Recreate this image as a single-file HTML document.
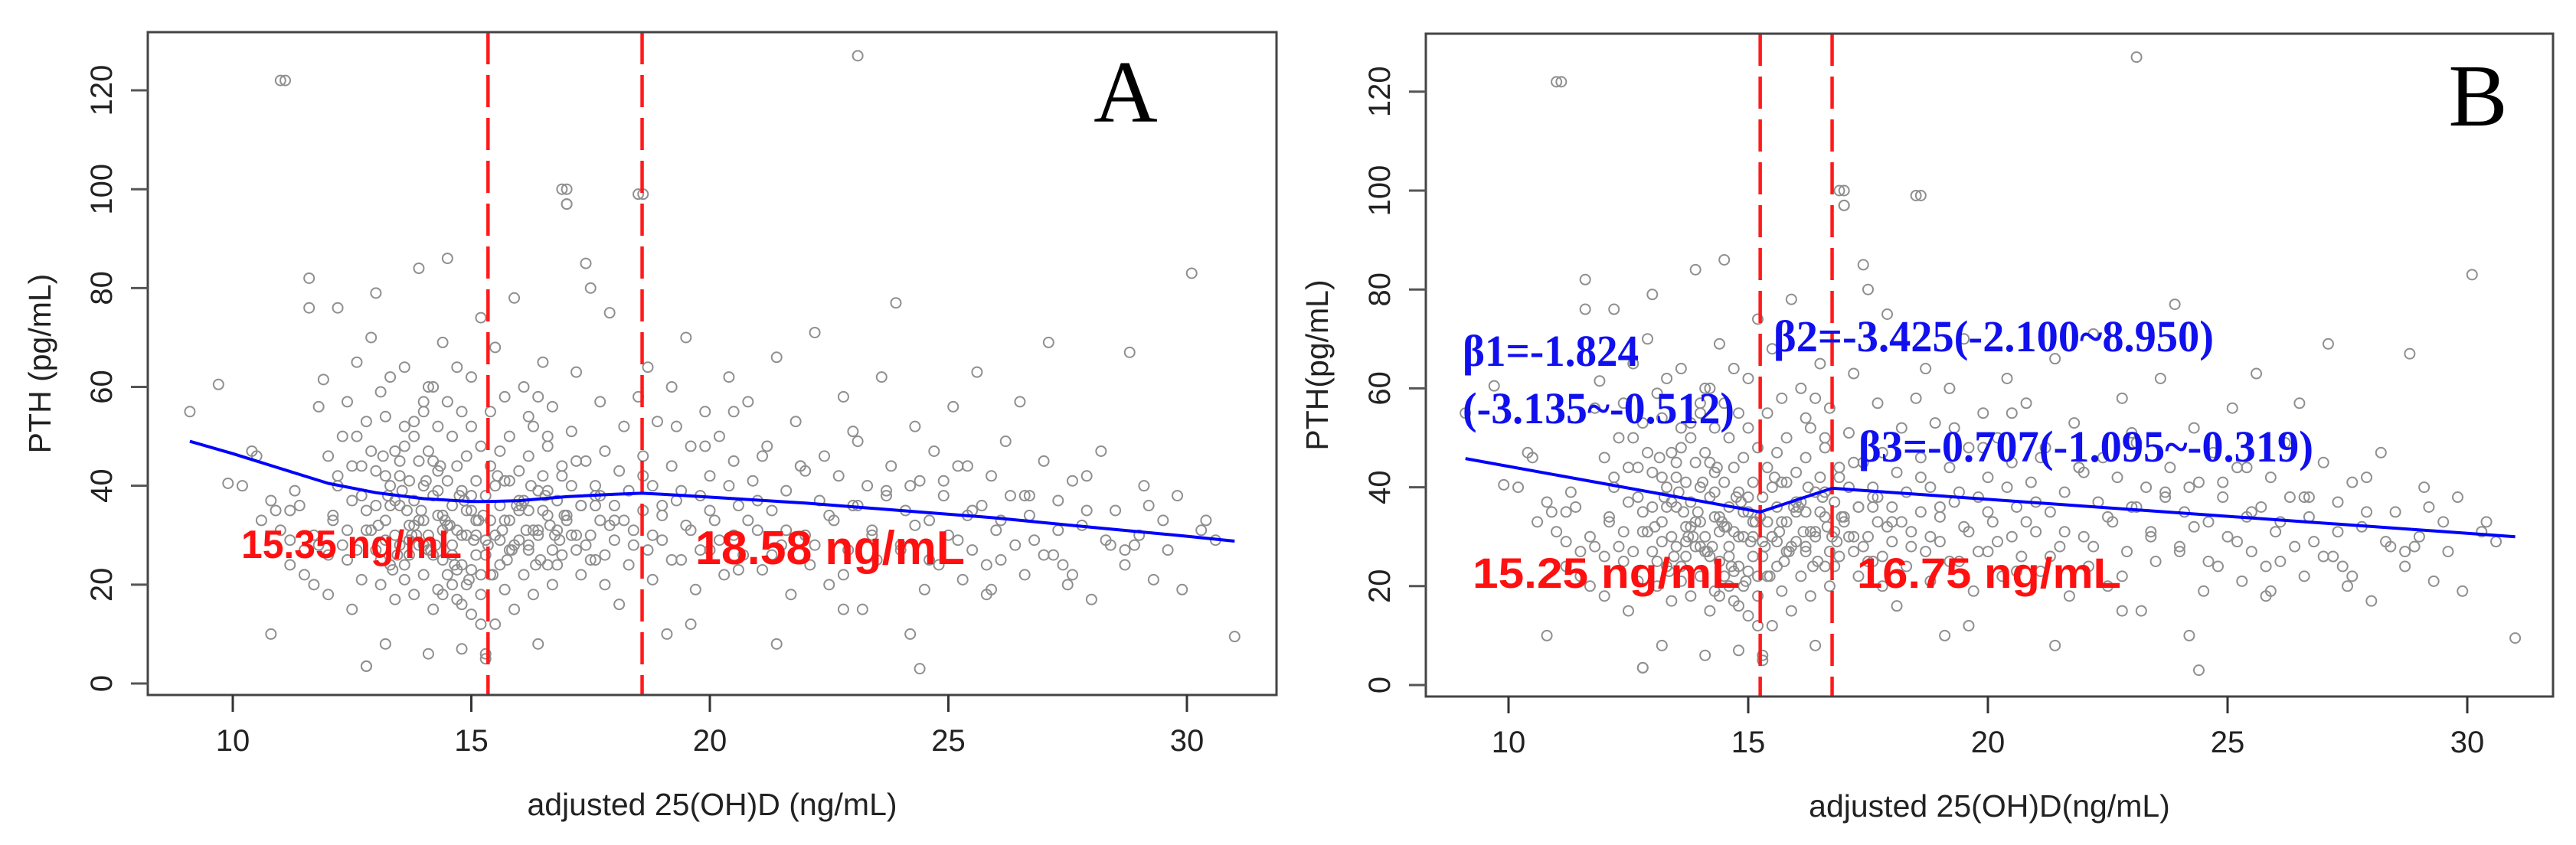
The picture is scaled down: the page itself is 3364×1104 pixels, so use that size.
<!DOCTYPE html>
<html><head><meta charset="utf-8"><style>
html,body{margin:0;padding:0;background:#fff;}
svg{display:block;}
</style></head><body>
<svg id="fig" width="3364" height="1104" viewBox="0 0 3364 1104" xmlns="http://www.w3.org/2000/svg">
<rect width="3364" height="1104" fill="#fff"/>
<g id="panelA"></g>
<g id="panelB"></g>
</svg>
<script>
// ---- data ----
const xTicks = [10, 15, 20, 25, 30];
const yTicks = [0, 20, 40, 60, 80, 100, 120];
const pointX = [9.1,9.7,9.9,10.2,10.4,10.5,10.6,10.8,10.8,10.9,11.0,11.1,11.2,11.2,11.3,11.4,11.5,11.6,11.6,11.7,11.8,11.8,11.9,12.0,12.0,12.1,12.2,12.2,12.3,12.4,12.4,12.5,12.5,12.6,12.6,12.7,12.7,12.8,12.8,12.8,12.9,12.9,13.0,13.0,13.0,13.1,13.1,13.2,13.2,13.2,13.3,13.3,13.3,13.4,13.4,13.4,13.5,13.5,13.5,13.6,13.6,13.6,13.7,13.7,13.7,13.8,13.8,13.8,13.9,13.9,13.9,14.0,14.0,14.0,14.0,14.1,14.1,14.1,14.2,14.2,14.2,14.3,14.3,14.3,14.3,14.4,14.4,14.4,14.5,14.5,14.5,14.5,14.6,14.6,14.6,14.7,14.7,14.7,14.7,14.8,14.8,14.8,14.8,14.9,14.9,14.9,15.0,15.0,15.0,15.0,15.1,15.1,15.1,15.2,15.2,15.2,15.3,15.3,15.3,15.4,15.4,15.4,15.5,15.5,15.5,15.6,15.6,15.6,15.7,15.7,15.7,15.8,15.8,15.8,15.9,15.9,16.0,16.0,16.0,16.1,16.1,16.2,16.2,16.2,16.3,16.3,16.4,16.4,16.4,16.5,16.5,16.6,16.6,16.6,16.7,16.7,16.8,16.8,16.9,16.9,17.0,17.0,17.0,17.1,17.1,17.2,17.2,17.3,17.3,17.4,17.4,17.5,17.5,17.6,17.6,17.7,17.7,17.8,17.8,17.9,18.0,18.0,18.1,18.1,18.2,18.3,18.3,18.4,18.5,18.5,18.6,18.6,18.7,18.7,18.8,18.8,18.9,19.0,19.0,19.1,19.2,19.2,19.3,19.4,19.5,19.5,19.6,19.7,19.8,19.9,20.0,20.0,20.1,20.2,20.3,20.4,20.5,20.5,20.6,20.7,20.8,20.9,21.0,21.1,21.2,21.3,21.4,21.5,21.6,21.7,21.8,21.9,22.0,22.1,22.2,22.3,22.4,22.5,22.6,22.7,22.8,22.9,23.0,23.1,23.2,23.3,23.4,23.5,23.6,23.7,23.8,23.9,24.0,24.1,24.2,24.3,24.4,24.5,24.6,24.7,24.8,24.9,25.0,25.1,25.2,25.3,25.4,25.5,25.6,25.7,25.8,25.9,26.0,26.1,26.2,26.3,26.5,26.6,26.7,26.8,27.0,27.1,27.2,27.3,27.5,27.6,27.8,28.0,28.2,28.4,28.5,28.7,28.8,29.0,29.1,29.3,29.5,29.6,29.8,29.9,30.1,30.3,30.6,31.0,16.9,17.0,18.6,23.1,11.0,12.8,24.4,13.2,14.1,15.3,19.6,21.4,22.8,25.9,27.4,28.9,
12.1,12.3,12.5,12.7,12.9,13.1,13.3,13.5,13.7,13.9,14.1,14.3,14.5,14.7,14.9,15.1,15.3,15.5,15.7,15.9,16.1,16.3,16.5,16.7,16.9,17.1,17.3,17.5,17.7,17.9,
12.2,12.4,12.6,12.8,13.0,13.2,13.4,13.6,13.8,14.0,14.2,14.4,14.6,14.8,15.0,15.2,15.4,15.6,15.8,16.0,16.2,16.4,16.6,16.8,17.0,17.2,17.4,17.6,17.8,18.0,
13.05,13.25,13.45,13.65,13.85,14.05,14.25,14.45,14.65,14.85,15.05,15.25,15.45,15.65,15.85,16.05,16.25,16.45,16.65,16.85,
13.15,13.35,13.55,13.75,13.95,14.15,14.35,14.55,14.75,14.95,15.15,15.35,15.55,15.75,15.95,16.15,16.35,16.55,16.75,16.95,
18.2,18.4,18.6,18.8,19.0,19.2,19.4,19.6,19.8,20.0,20.2,20.4,20.6,20.8,21.0,21.3,21.6,21.9,22.2,22.5,22.8,23.1,23.4,23.7,24.0,24.3,24.6,24.9,25.2,25.5,25.8,26.1,26.4,26.7,27.0,27.3,27.6,27.9,28.3,28.7,
11.2,11.5,11.7,12.0,14.4,14.6,14.8,15.0,15.2,13.6,13.8,14.0,14.2,16.2,16.4,16.6,17.2,17.6,19.3,19.9,20.5,21.1,22.0,23.0,24.2,25.4,26.6,27.9,29.2,30.4];
const pointY = [55,60.5,40.5,40,47,46,33,10,37,35,31,122,24,29,39,36,27,82,76,20,28,56,61.5,46,18,33,76,42,50,57,25,37,15,65,50,44,21,53,31,3.5,70,47,79,36,27,59,20,42,54,33,24,40,62,30,17,47,45,28,36,21,52,64,32,41,26,18,50,37,84,28,45,55,33,22,40,60,30,47,15,38,26,43,52,19,34,31,69,25,41,57,22,86,36,28,50,17,44,64,31,24,39,55,7,46,30,20,52,35,14,62,26,41,33,74,18,48,29,6,38,55,22,44,30,12,68,36,24,47,58,19,41,33,27,50,15,78,37,29,43,22,60,35,28,46,18,52,39,30,8,65,42,24,34,48,20,56,31,37,26,44,100,97,33,40,51,27,63,36,22,85,45,30,80,38,25,57,33,47,20,75,36,29,43,16,52,39,24,31,58,99,46,35,27,64,40,21,53,34,29,10,44,60,37,25,70,32,48,19,38,55,27,42,33,50,22,62,30,45,36,26,57,41,31,23,48,35,66,28,39,18,53,44,30,24,71,37,46,20,33,42,58,27,36,49,15,40,31,25,62,38,44,77,28,35,10,52,41,19,33,47,24,38,30,56,44,21,34,27,63,36,18,42,31,25,49,38,57,22,34,29,45,69,26,37,20,41,32,17,47,28,35,24,67,30,40,21,33,27,38,19,83,31,29,9.5,100,97,99,127,122,3.5,3,8,6,5,12,8,15,19,24,28,
34,28,44,38,31,25,36,42,29,33,27,39,32,23,35,30,26,40,33,28,37,31,35,27,42,30,36,25,38,32,
40,31,27,35,43,29,37,24,32,28,45,34,26,30,38,22,33,29,41,35,27,31,39,24,34,30,28,36,26,33,
32,38,26,35,30,41,28,33,24,37,29,34,22,31,27,36,40,25,32,29,
46,23,39,30,35,27,44,32,38,21,33,28,42,25,36,31,24,38,30,34,
33,28,42,30,36,25,39,31,27,35,29,40,23,33,37,26,31,44,28,34,22,36,30,39,27,32,25,41,29,35,24,33,28,38,26,31,22,35,29,27,
35,22,30,26,18,20,16,23,12,48,53,57,60,54,58,50,45,40,52,48,55,46,43,51,40,44,38,42,36,33];
const curveAX = [9.1,10,11,12,13,14,15,15.35,16,17,18,18.58,19,20,22,24,26,28,30,31];
const curveAY = [49,46.5,43.5,40.5,38.6,37.4,36.8,36.8,37.0,37.8,38.3,38.5,38.3,37.7,36.5,35.0,33.5,31.6,29.8,28.8];
const curveBX = [9.1,15.25,16.75,31];
const curveBY = [45.8,35.0,39.8,30.0];
const cutA = [15.35, 18.58];
const cutB = [15.25, 16.75];

const NS = 'http://www.w3.org/2000/svg';
function mk(tag, attrs, parent, text){
  const e = document.createElementNS(NS, tag);
  for (const k in attrs) e.setAttribute(k, attrs[k]);
  if (text !== undefined) e.textContent = text;
  parent.appendChild(e);
  return e;
}

function drawPanel(g, cfg){
  const sx = v => cfg.x10 + (v - 10) * cfg.kx;
  const sy = v => cfg.y0 - v * cfg.ky;
  const pts = mk('g', {}, g);
  
  
  for (let i = 0; i < pointX.length; i++){
    const c = mk('circle', {cx: sx(pointX[i]), cy: sy(pointY[i]), r: 6.5, fill: 'none', stroke: '#8f8f8f', 'stroke-width': 2}, pts);
    
    
  }
  cfg.cuts.forEach(v => {
    const l = mk('line', {x1: sx(v), x2: sx(v), y1: cfg.top, y2: cfg.bottom, stroke: '#ff1a1a', 'stroke-width': 4.5, 'stroke-dasharray': '42 14'}, g);
    
    
  });
  let d = '';
  cfg.cx.forEach((v, i) => { d += (i ? 'L' : 'M') + sx(v).toFixed(1) + ',' + sy(cfg.cy[i]).toFixed(1); });
  const p = mk('path', {d: d, fill: 'none', stroke: '#0000ff', 'stroke-width': 4, 'stroke-linejoin': 'round'}, g);
  
  
  const b = mk('rect', {x: cfg.left, y: cfg.top, width: cfg.right - cfg.left, height: cfg.bottom - cfg.top, fill: 'none', stroke: '#444', 'stroke-width': 3}, g);
  
  
  xTicks.forEach(v => {
    const t = mk('line', {x1: sx(v), x2: sx(v), y1: cfg.bottom, y2: cfg.bottom + 22, stroke: '#333', 'stroke-width': 3}, g);
    
    
    const lb = mk('text', {x: sx(v), y: cfg.bottom + 73, 'text-anchor': 'middle', 'font-family': 'Liberation Sans, sans-serif', 'font-size': 40, fill: '#222'}, g, String(v));
    
    
  });
  yTicks.forEach(v => {
    const t = mk('line', {x1: cfg.left - 22, x2: cfg.left, y1: sy(v), y2: sy(v), stroke: '#555', 'stroke-width': 3}, g);
    
    
    const lb = mk('text', {x: 0, y: 0, transform: 'translate(' + (cfg.left - 47) + ',' + sy(v) + ') rotate(-90)', 'text-anchor': 'middle', 'font-family': 'Liberation Sans, sans-serif', 'font-size': 40, fill: '#222'}, g, String(v));
    
    
  });
  const xt = mk('text', {x: (cfg.left + cfg.right) / 2, y: cfg.bottom + 157, 'text-anchor': 'middle', 'font-family': 'Liberation Sans, sans-serif', 'font-size': 41, fill: '#222'}, g, cfg.xTitle);
  
  
  const yt = mk('text', {x: 0, y: 0, transform: 'translate(' + cfg.yTitleX + ',' + ((cfg.top + cfg.bottom) / 2) + ') rotate(-90)', 'text-anchor': 'middle', 'font-family': 'Liberation Sans, sans-serif', 'font-size': 41, fill: '#222'}, g, cfg.yTitle);
  
  
  const pl = mk('text', {x: cfg.letterX, y: cfg.letterY, 'text-anchor': 'middle', 'font-family': 'Liberation Serif, serif', 'font-size': 116, fill: '#000'}, g, cfg.letter);
  
  
}

const gA = document.getElementById('panelA');
drawPanel(gA, {x10: 304, kx: 62.3, y0: 893, ky: 6.458, left: 193, right: 1667, top: 42, bottom: 908,
  cuts: cutA, cx: curveAX, cy: curveAY, xTitle: 'adjusted 25(OH)D (ng/mL)', yTitle: 'PTH (pg/mL)', yTitleX: 66,
  letter: 'A', letterX: 1470, letterY: 159});
const gB = document.getElementById('panelB');
drawPanel(gB, {x10: 1970, kx: 62.6, y0: 895, ky: 6.46, left: 1862, right: 3334, top: 44, bottom: 910,
  cuts: cutB, cx: curveBX, cy: curveBY, xTitle: 'adjusted 25(OH)D(ng/mL)', yTitle: 'PTH(pg/mL)', yTitleX: 1734,
  letter: 'B', letterX: 3236, letterY: 164});

function label(g, txt, x, y, len, size, color, fam, name){
  const t = mk('text', {x: x, y: y, 'font-family': fam, 'font-size': size, 'font-weight': 'bold', fill: color, textLength: len, lengthAdjust: 'spacingAndGlyphs'}, g, txt);
  
  
}
const SANS = 'Liberation Sans, sans-serif', SERIF = 'Liberation Serif, serif';
label(gA, '15.35 ng/mL', 315, 729, 288, 52, '#ff1010', SANS, 'cut-label-1');
label(gA, '18.58 ng/mL', 908, 737, 352, 62, '#ff1010', SANS, 'cut-label-2');
label(gB, '15.25 ng/mL', 1923, 768, 349, 56, '#ff1010', SANS, 'cut-label-1');
label(gB, '16.75 ng/mL', 2425, 768, 345, 56, '#ff1010', SANS, 'cut-label-2');
label(gB, 'β1=-1.824', 1910, 478, 230, 58, '#1010ee', SERIF, 'beta1-label');
label(gB, '(-3.135~-0.512)', 1910, 553, 355, 58, '#1010ee', SERIF, 'beta1-ci-label');
label(gB, 'β2=-3.425(-2.100~8.950)', 2316, 459, 575, 58, '#1010ee', SERIF, 'beta2-label');
label(gB, 'β3=-0.707(-1.095~-0.319)', 2427, 603, 594, 58, '#1010ee', SERIF, 'beta3-label');
</script>
</body></html>
